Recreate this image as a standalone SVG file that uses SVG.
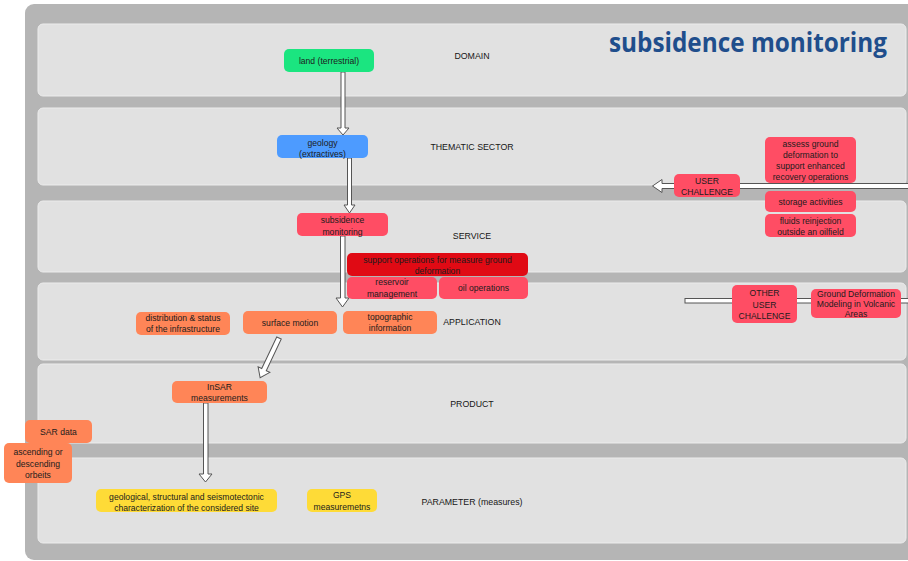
<svg xmlns="http://www.w3.org/2000/svg" width="908" height="561" viewBox="0 0 908 561">
  <style>
    .band { fill: #e1e1e1; stroke: #ececec; stroke-width: 1; }
    .lbl { font-family: "Liberation Sans", Arial, sans-serif; font-size: 8.8px; fill: #161616; text-anchor: middle; }
    .t { font-family: "Liberation Sans", Arial, sans-serif; font-size: 8.6px; fill: #1c1c1c; text-anchor: middle; }
    .arrow { fill: #ffffff; stroke: #555555; stroke-width: 1; stroke-linejoin: miter; }
    .green { fill: #1be580; }
    .blue { fill: #4d9bff; }
    .red { fill: #ff4d64; }
    .dred { fill: #e00a14; }
    .orange { fill: #ff8557; }
    .yellow { fill: #fedb37; }
  </style>

  <!-- frame -->
  <rect x="25" y="4" width="900" height="556" rx="9" fill="#b5b5b5"/>

  <!-- layers -->
  <g id="layers">
    <rect class="band" x="38" y="24" width="868" height="72" rx="5"/>
    <rect class="band" x="38" y="108" width="868" height="77" rx="5"/>
    <rect class="band" x="38" y="201" width="868" height="71" rx="5"/>
    <rect class="band" x="38" y="283" width="868" height="77" rx="5"/>
    <rect class="band" x="38" y="364" width="868" height="79" rx="5"/>
    <rect class="band" x="38" y="458" width="868" height="85" rx="5"/>
    <text class="lbl" x="472" y="59">DOMAIN</text>
    <text class="lbl" x="472" y="150">THEMATIC SECTOR</text>
    <text class="lbl" x="472" y="239">SERVICE</text>
    <text class="lbl" x="472" y="325">APPLICATION</text>
    <text class="lbl" x="472" y="407">PRODUCT</text>
    <text class="lbl" x="472" y="505">PARAMETER (measures)</text>
  </g>

  <text x="887" y="52" text-anchor="end" font-family="'Open Sans', 'Liberation Sans', sans-serif" font-weight="bold" font-size="26" fill="#1f4e8c" textLength="278" lengthAdjust="spacingAndGlyphs">subsidence monitoring</text>

  <!-- connectors -->
  <g id="connectors">
    <polygon class="arrow" points="341,72 345,72 345,128 349,128 343,135 337,128 341,128"/>
    <polygon class="arrow" points="347.5,158 351.5,158 351.5,205 355,205 349.5,213 344,205 347.5,205"/>
    <polygon class="arrow" points="340.5,236 345,236 345,298 349,298 342.5,307 336,298 340.5,298"/>
    <polygon class="arrow" transform="translate(279,338) rotate(25.4)" points="-2.5,0 2.5,0 2.5,35 6.5,35 0,44 -6.5,35 -2.5,35"/>
    <polygon class="arrow" points="203.5,403 208,403 208,474 212,474 205.5,482 199,474 203.5,474"/>
    <polygon class="arrow" points="912,183.5 662,183.5 662,179.5 652.5,186 662,192.5 662,188.5 912,188.5"/>
    <rect class="arrow" x="685" y="298.5" width="230" height="4.5"/>
  </g>

  <!-- nodes -->
  <g id="land">
    <rect class="green" x="284" y="49" width="90" height="23" rx="5"/>
    <text class="t" x="329" y="64">land (terrestrial)</text>
  </g>
  <g id="geology">
    <rect class="blue" x="277" y="135" width="91" height="23" rx="5"/>
    <text class="t" x="322.5" y="146">geology</text>
    <text class="t" x="322.5" y="156.5">(extractives)</text>
  </g>
  <g id="subsidence-monitoring">
    <rect class="red" x="297" y="213" width="91" height="23" rx="5"/>
    <text class="t" x="342.5" y="222.5">subsidence</text>
    <text class="t" x="342.5" y="234.5">monitoring</text>
  </g>
  <g id="support-operations">
    <rect class="dred" x="347" y="253" width="181" height="23" rx="5"/>
    <text class="t" x="437.5" y="263">support operations for measure ground</text>
    <text class="t" x="437.5" y="274">deformation</text>
  </g>
  <g id="reservoir-management">
    <rect class="red" x="347" y="277" width="90" height="22" rx="5"/>
    <text class="t" x="392" y="285">reservoir</text>
    <text class="t" x="392" y="297">management</text>
  </g>
  <g id="oil-operations">
    <rect class="red" x="439" y="277" width="89" height="22" rx="5"/>
    <text class="t" x="483.5" y="291">oil operations</text>
  </g>
  <g id="distribution">
    <rect class="orange" x="136" y="312" width="94" height="23" rx="5"/>
    <text class="t" x="183" y="321">distribution &amp; status</text>
    <text class="t" x="183" y="332">of the infrastructure</text>
  </g>
  <g id="surface-motion">
    <rect class="orange" x="243" y="311" width="94" height="23" rx="5"/>
    <text class="t" x="290" y="325.5">surface motion</text>
  </g>
  <g id="topographic">
    <rect class="orange" x="343" y="311" width="94" height="23" rx="5"/>
    <text class="t" x="390" y="320">topographic</text>
    <text class="t" x="390" y="331">information</text>
  </g>
  <g id="insar">
    <rect class="orange" x="172" y="381" width="95" height="22" rx="5"/>
    <text class="t" x="219.5" y="390">InSAR</text>
    <text class="t" x="219.5" y="401">measurements</text>
  </g>
  <g id="sar-data">
    <rect class="orange" x="25" y="420" width="67" height="23" rx="5"/>
    <text class="t" x="58.5" y="435">SAR data</text>
  </g>
  <g id="orbits">
    <rect class="orange" x="4" y="443" width="68" height="40" rx="5"/>
    <text class="t" x="38" y="455">ascending or</text>
    <text class="t" x="38" y="467">descending</text>
    <text class="t" x="38" y="478">orbeits</text>
  </g>
  <g id="geological">
    <rect class="yellow" x="96" y="489" width="181" height="23" rx="5"/>
    <text class="t" x="186.5" y="500">geological, structural and seismotectonic</text>
    <text class="t" x="186.5" y="510.5">characterization of the considered site</text>
  </g>
  <g id="gps">
    <rect class="yellow" x="307" y="489" width="70" height="23" rx="5"/>
    <text class="t" x="342" y="498">GPS</text>
    <text class="t" x="342" y="510">measuremetns</text>
  </g>
  <g id="user-challenge">
    <rect class="red" x="674" y="174" width="66" height="23" rx="5"/>
    <text class="t" x="707" y="184">USER</text>
    <text class="t" x="707" y="195">CHALLENGE</text>
  </g>
  <g id="assess">
    <rect class="red" x="765" y="137" width="91" height="46" rx="5"/>
    <text class="t" x="810.5" y="147">assess ground</text>
    <text class="t" x="810.5" y="158">deformation to</text>
    <text class="t" x="810.5" y="169">support enhanced</text>
    <text class="t" x="810.5" y="180">recovery operations</text>
  </g>
  <g id="storage">
    <rect class="red" x="765" y="191" width="91" height="21" rx="5"/>
    <text class="t" x="810.5" y="205">storage activities</text>
  </g>
  <g id="fluids">
    <rect class="red" x="765" y="214" width="91" height="23" rx="5"/>
    <text class="t" x="810.5" y="224">fluids reinjection</text>
    <text class="t" x="810.5" y="235">outside an oilfield</text>
  </g>
  <g id="other-user-challenge">
    <rect class="red" x="732" y="285" width="65" height="38" rx="5"/>
    <text class="t" x="764.5" y="296">OTHER</text>
    <text class="t" x="764.5" y="308">USER</text>
    <text class="t" x="764.5" y="319">CHALLENGE</text>
  </g>
  <g id="volcanic">
    <rect class="red" x="811" y="289" width="90" height="29" rx="5"/>
    <text class="t" x="856" y="297">Ground Deformation</text>
    <text class="t" x="856" y="307">Modeling in Volcanic</text>
    <text class="t" x="856" y="317">Areas</text>
  </g>
</svg>
